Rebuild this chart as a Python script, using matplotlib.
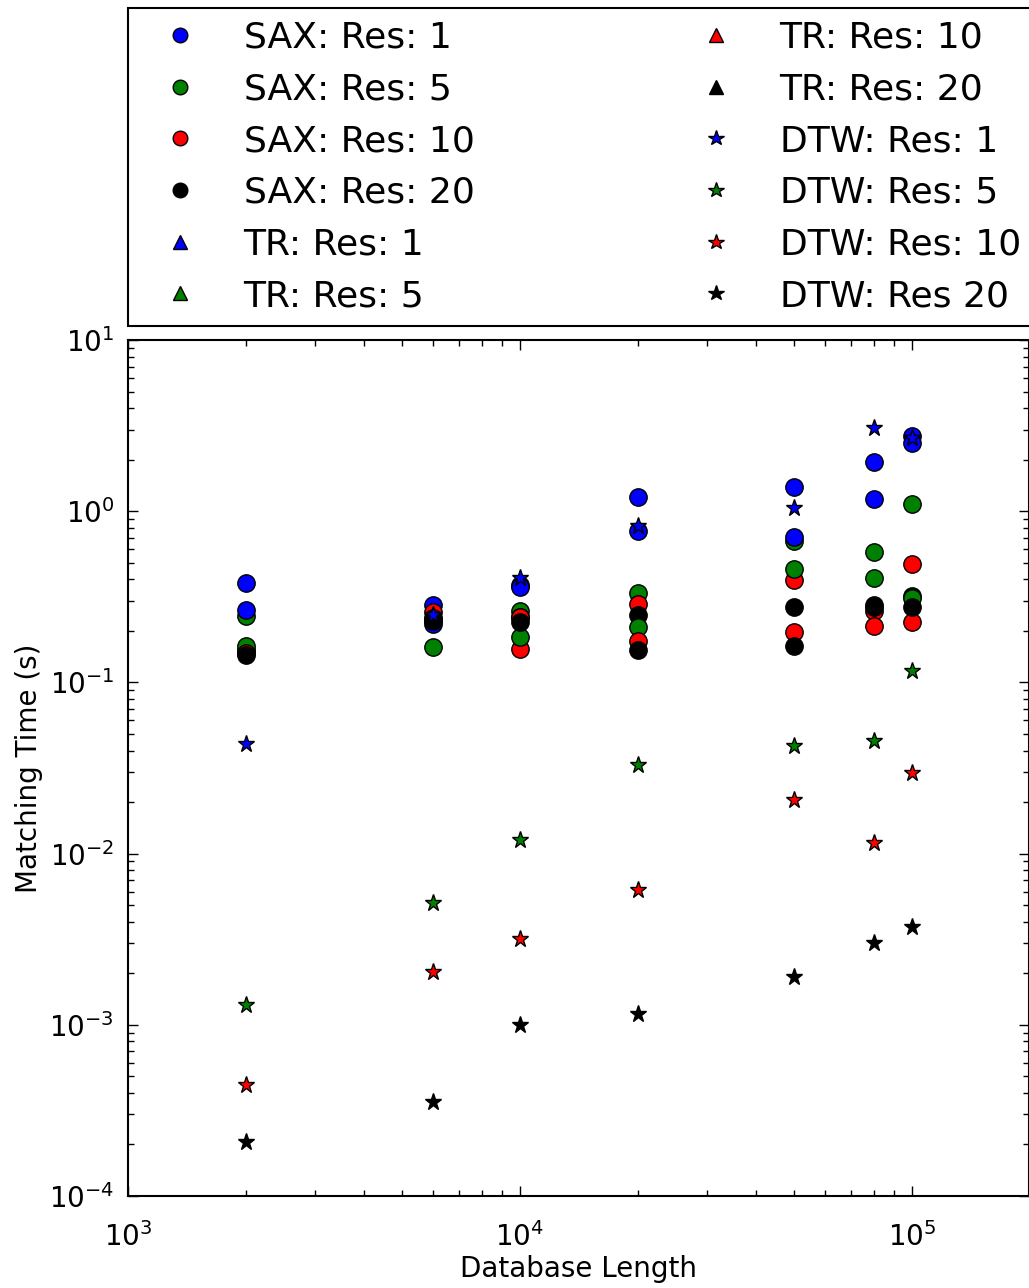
import numpy as np
import matplotlib
matplotlib.use('Agg')
import matplotlib.pyplot as plt
from matplotlib.lines import Line2D

# database lengths (x positions of each column)
db_len = [2000, 6000, 10000, 20000, 50000, 80000, 100000]

# SAX matching times (s), one per resolution
sax_res1 = [0.381, 0.283, 0.371, 1.21, 1.38, 1.94, 2.75]
sax_res5 = [0.244, 0.161, 0.263, 0.333, 0.67, 0.578, 1.10]
sax_res10 = [0.150, 0.258, 0.157, 0.287, 0.396, 0.261, 0.492]
sax_res20 = [0.155, 0.238, 0.241, 0.248, 0.275, 0.283, 0.320]

# TR matching times (s)
tr_res1 = [0.265, 0.219, 0.360, 0.766, 0.706, 1.18, 2.50]
tr_res5 = [0.163, 0.235, 0.184, 0.211, 0.459, 0.408, 0.310]
tr_res10 = [0.148, 0.230, 0.240, 0.175, 0.197, 0.213, 0.225]
tr_res20 = [0.144, 0.228, 0.225, 0.155, 0.163, 0.275, 0.275]

# DTW matching times (s)
dtw_res1 = [0.0436, 0.248, 0.407, 0.82, 1.04, 3.06, 2.68]
dtw_res5 = [0.00131, 0.00514, 0.0120, 0.033, 0.0426, 0.0455, 0.1167]
dtw_res10 = [0.000445, 0.00203, 0.00317, 0.00612, 0.0206, 0.01153, 0.0296]
dtw_res20 = [0.000206, 0.000354, 0.000997, 0.001156, 0.0019, 0.0030, 0.00372]

colors = ['blue', 'green', 'red', 'black']
sax = [sax_res1, sax_res5, sax_res10, sax_res20]
tr = [tr_res1, tr_res5, tr_res10, tr_res20]
dtw = [dtw_res1, dtw_res5, dtw_res10, dtw_res20]

sax_labels = ['SAX: Res: 1', 'SAX: Res: 5', 'SAX: Res: 10', 'SAX: Res: 20']
tr_labels = ['TR: Res: 1', 'TR: Res: 5', 'TR: Res: 10', 'TR: Res: 20']
dtw_labels = ['DTW: Res: 1', 'DTW: Res: 5', 'DTW: Res: 10', 'DTW: Res 20']

plt.rcParams['font.family'] = 'DejaVu Sans'

fig = plt.figure(figsize=(10.29, 12.88), dpi=100)
ax = fig.add_axes([128 / 1029, 92 / 1288, 901 / 1029, 856 / 1288])

for c, ys in zip(colors, sax):
    ax.plot(db_len, ys, 'o', color=c, mec='black', mew=1, ms=12.5, zorder=3)
for c, ys in zip(colors, tr):
    ax.plot(db_len, ys, 'o', color=c, mec='black', mew=1, ms=12.5, zorder=3)
for c, ys in zip(colors, dtw):
    ax.plot(db_len, ys, '*', color=c, mec='black', mew=1, ms=12.5, zorder=4)

ax.set_xscale('log')
ax.set_yscale('log')
ax.set_xlim(1e3, 1.99e5)
ax.set_ylim(1e-4, 1e1)
ax.set_xlabel('Database Length', fontsize=20, labelpad=2)
ax.set_ylabel('Matching Time (s)', fontsize=20, labelpad=4)
ax.tick_params(which='both', direction='in', top=True, right=True, labelsize=20, pad=10)
ax.tick_params(axis='x', which='both', pad=19)
ax.tick_params(which='major', length=7, width=1)
ax.tick_params(which='minor', length=4, width=1)
for s in ax.spines.values():
    s.set_linewidth(1.5)

# legend with proxy handles
handles = []
labels = []
for c, l in zip(colors, sax_labels):
    handles.append(Line2D([], [], ls='', marker='o', color=c, mec='black', mew=1, ms=10.5))
    labels.append(l)
for c, l in zip(colors, tr_labels):
    handles.append(Line2D([], [], ls='', marker='^', color=c, mec='black', mew=1, ms=10.5))
    labels.append(l)
for c, l in zip(colors, dtw_labels):
    handles.append(Line2D([], [], ls='', marker='*', color=c, mec='black', mew=1, ms=11.5))
    labels.append(l)

leg = fig.legend(handles, labels, ncol=2, loc='upper left',
                 bbox_to_anchor=(128 / 1029, 1 - 8 / 1288), fontsize=26,
                 numpoints=1, handlelength=2.2, handletextpad=0.65,
                 columnspacing=5.6, labelspacing=0.49, borderpad=0.35,
                 borderaxespad=0, fancybox=False, framealpha=1)
leg.get_frame().set_edgecolor('black')
leg.get_frame().set_linewidth(1.5)

fig.savefig('out.png', dpi=100)
